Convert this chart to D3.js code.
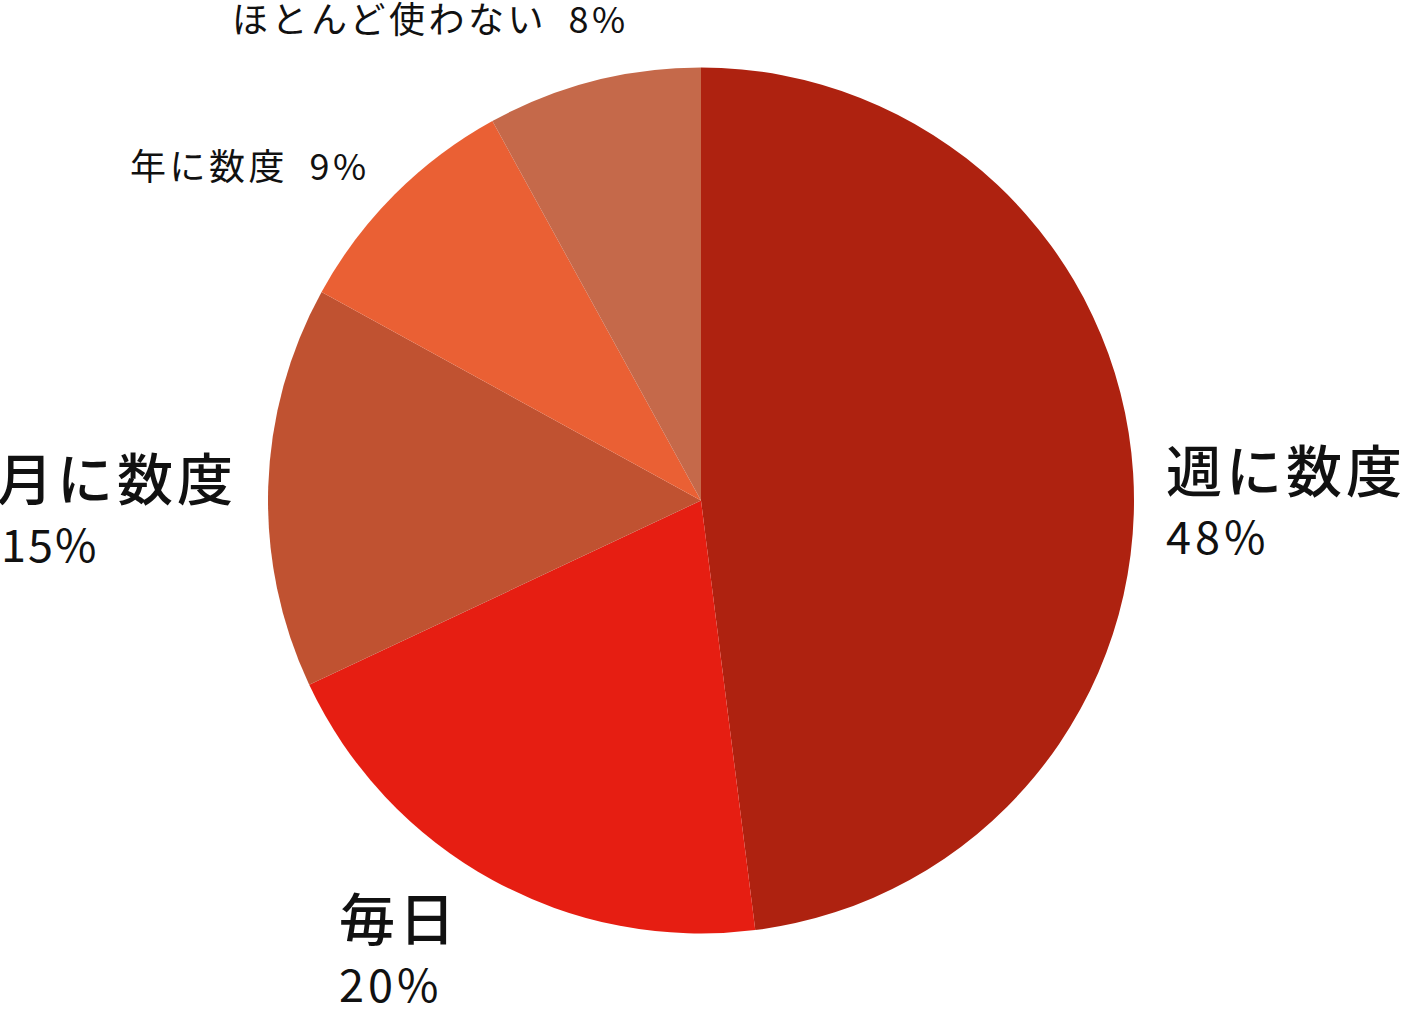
<!DOCTYPE html>
<html>
<head>
<meta charset="utf-8">
<script src="https://cdn.jsdelivr.net/npm/d3@7"></script>
<style>
  html, body { margin: 0; padding: 0; background: #fff; overflow: hidden; }
  svg { display: block; }
  text { font-family: "Noto Sans CJK JP", "Noto Sans", sans-serif; fill: #111; }
</style>
</head>
<body>
<div id="chart"></div>
<script>

// === Data === //

var categories = ['週に数度', '毎日', '月に数度', '年に数度', 'ほとんど使わない'];
var shares = [48, 20, 15, 9, 8];
var colours = ['#ae2210', '#e61e12', '#c05231', '#ea6034', '#c5694a'];

// === Globals === //

var width = 1402, height = 1016;
var cx = 701, cy = 500.5, radius = 433;

// label layout: big two-line labels or small single-line ones
var labelLayout = [
  { x: 1166, y: 492, pctX: 1166, anchor: 'start', big: true },
  { x: 339, y: 940, pctX: 339, anchor: 'start', big: true },
  { x: 237, y: 500, pctX: 1, anchor: 'start', big: true },
  { x: 130, y: 180, anchor: 'start', big: false },
  { x: 232, y: 33, anchor: 'start', big: false }
];

var svg = d3.select('#chart').append('svg')
  .attr('width', width)
  .attr('height', height);

// === Pie === //

var pie = d3.pie().sort(null).value(function(d) { return d; });
var arc = d3.arc().innerRadius(0).outerRadius(radius);

var slices = pie(shares);

svg.append('g')
  .attr('transform', 'translate(' + cx + ',' + cy + ')')
  .selectAll('path')
  .data(slices)
  .enter()
  .append('path')
  .attr('d', arc)
  .attr('fill', function(d, i) { return colours[i]; });

// === Labels === //

var labels = svg.append('g');

slices.forEach(function(s, i) {

  var lay = labelLayout[i];
  var pct = shares[i] + '%';

  if (lay.big) {

    // the left label hangs off the edge, anchored on its right side
    labels.append('text')
      .attr('x', lay.x)
      .attr('y', lay.y)
      .attr('text-anchor', lay.x === 237 ? 'end' : 'start')
      .style('font-size', '56px')
      .style('font-weight', 500)
      .style('letter-spacing', '4px')
      .text(categories[i]);

    labels.append('text')
      .attr('x', lay.pctX)
      .attr('y', lay.y + 62)
      .style('font-size', '45px')
      .style('letter-spacing', lay.pctX === 1 ? '2px' : '4px')
      .text(pct);

  } else {

    labels.append('text')
      .attr('x', lay.x)
      .attr('y', lay.y)
      .style('font-size', '36px')
      .style('letter-spacing', '3.5px')
      .text(categories[i] + '\u2002' + pct);

  }

});

</script>
</body>
</html>
